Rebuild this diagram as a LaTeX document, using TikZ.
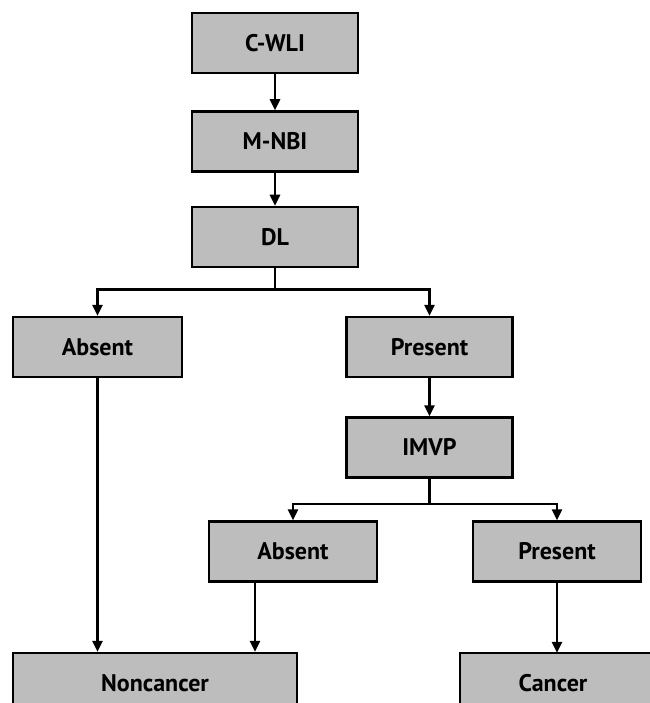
\documentclass[tikz,border=0pt]{standalone}
\usepackage{fontspec}
\setmainfont{PT Sans}
\usetikzlibrary{arrows.meta}
\definecolor{boxgray}{gray}{0.74}
\begin{document}
\begin{tikzpicture}[x=1pt,y=-1pt,
  boxline/.style={draw=black, line width=2.5pt, fill=boxgray},
  box/.style={boxline, minimum width=166pt, minimum height=60pt, inner sep=0pt,
    font=\fontsize{24}{27}\selectfont\bfseries},
  lbl/.style={inner sep=0pt, minimum width=186pt, minimum height=60pt,
    font=\fontsize{24}{27}\selectfont\bfseries},
  ln/.style={line width=2.5pt},
  arr/.style={line width=2.5pt, -{Triangle[length=11pt,width=10pt]}}]
\useasboundingbox (0,0) rectangle (649,703);
\node[box] (cwli) at (275,43) {C-WLI};
\node[box] (mnbi) at (275,141.5) {M-NBI};
\node[box] (dl) at (275,237) {DL};
\node[box, minimum width=169pt] (absA) at (97.5,347) {Absent};
\node[box] (presA) at (429.5,347) {Present};
\node[box] (imvp) at (429.5,447.5) {IMVP};
\node[box, minimum width=168pt] (absB) at (293,551.5) {Absent};
\node[box, minimum width=168pt] (presB) at (557,551.5) {Present};
\node[box, minimum width=284pt] (nonc) at (155,683) {Noncancer};
\draw[boxline] (460,653) rectangle (700,713);
\node[lbl] (canc) at (553,683) {Cancer};
\draw[arr] (cwli) -- (mnbi);
\draw[arr] (mnbi) -- (dl);
\draw[ln] (dl.south) -- ++(0,21) coordinate (j1);
\draw[arr] (j1) -| (absA.north);
\draw[arr] (j1) -| (presA.north);
\draw[arr] (presA) -- (imvp);
\draw[ln] (imvp.south) -- ++(0,25) coordinate (j2);
\draw[arr] (j2) -| (absB.north);
\draw[arr] (j2) -| (presB.north);
\draw[arr] (absA.south) -- (absA.south |- nonc.north);
\draw[arr] ([xshift=-38pt]absB.south) -- ([xshift=-38pt]absB.south |- nonc.north);
\draw[arr] (presB.south) -- (presB.south |- canc.north);
\end{tikzpicture}
\end{document}
